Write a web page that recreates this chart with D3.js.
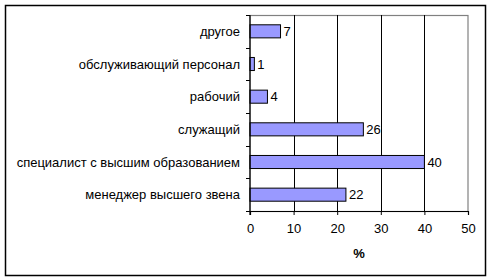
<!DOCTYPE html>
<html>
<head>
<meta charset="utf-8">
<script src="https://cdn.jsdelivr.net/npm/d3@7"></script>
<style>
  body { margin: 0; background: #fff; }
  svg text { font-family: "Liberation Sans", Arial, sans-serif; }
</style>
</head>
<body>
<svg id="chart"></svg>
<script>
// categories top to bottom, values in %
const categories = ["другое", "обслуживающий персонал", "рабочий", "служащий",
  "специалист с высшим образованием", "менеджер высшего звена"];
const values = [7, 1, 4, 26, 40, 22];
const xTicks = [0, 10, 20, 30, 40, 50];

const W = 492, H = 280;
const margin = {top: 15, right: 24, bottom: 69, left: 250};
const width = 468 - margin.left;
const height = 211 - margin.top;
const fs = 13;

const svg = d3.select("#chart").attr("width", W).attr("height", H);

// outer frame
svg.append("rect")
  .attr("x", 5.5).attr("y", 5.5)
  .attr("width", 480).attr("height", 270)
  .attr("fill", "#fff").attr("stroke", "#000").attr("stroke-width", 1.5);

const chart = svg.append("g")
  .attr("transform", `translate(${margin.left},${margin.top})`);

const x = d3.scaleLinear().domain([0, 50]).range([0, width]);
const y = d3.scaleBand().domain(categories).range([0, height]).paddingInner(0.6).paddingOuter(0.3);

// plot area border (grey)
chart.append("rect")
  .attr("x", 0).attr("y", 0.5)
  .attr("width", width).attr("height", height)
  .attr("fill", "none").attr("stroke", "#808080").attr("stroke-width", 1.2);

// gridlines
chart.selectAll(".grid")
  .data(xTicks.slice(1, -1))
  .enter()
  .append("line")
    .attr("x1", d => Math.round(x(d)) + 0.5)
    .attr("x2", d => Math.round(x(d)) + 0.5)
    .attr("y1", 0).attr("y2", height)
    .attr("stroke", "#000");

// bars
chart.selectAll(".bar")
  .data(values)
  .enter()
  .append("rect")
    .attr("x", 0)
    .attr("y", (d, i) => y(categories[i]))
    .attr("width", d => x(d))
    .attr("height", y.bandwidth())
    .attr("fill", "#9999ff")
    .attr("stroke", "#000")
    .attr("stroke-width", 1);

// value labels
chart.selectAll(".val")
  .data(values)
  .enter()
  .append("text")
    .attr("x", d => x(d) + 3)
    .attr("y", (d, i) => y(categories[i]) + y.bandwidth() / 2)
    .attr("dy", "0.35em")
    .attr("font-size", fs)
    .attr("fill", "#000")
    .text(d => d);

// x axis
const xAxis = d3.axisBottom(x).tickValues(xTicks).tickSize(4).tickPadding(9).tickFormat(d => d);
const xg = chart.append("g")
  .attr("transform", `translate(0,${height})`)
  .call(xAxis);
xg.select(".domain").attr("stroke", "#000").attr("stroke-width", 1.2);
xg.selectAll("text").attr("font-size", fs).attr("fill", "#000")
  .style("font-family", '"Liberation Sans", Arial, sans-serif');

// y axis: ticks at band boundaries
const bounds = d3.range(categories.length + 1).map(i => i * height / categories.length);
chart.append("line")
  .attr("x1", 0).attr("x2", 0).attr("y1", 0).attr("y2", height + 4)
  .attr("stroke", "#000").attr("stroke-width", 1.2);
chart.selectAll(".ytick")
  .data(bounds)
  .enter()
  .append("line")
    .attr("x1", -4).attr("x2", 0)
    .attr("y1", d => Math.round(d) + 0.5).attr("y2", d => Math.round(d) + 0.5)
    .attr("stroke", "#000");

chart.selectAll(".ylab")
  .data(categories)
  .enter()
  .append("text")
    .attr("x", -10)
    .attr("y", d => y(d) + y.bandwidth() / 2)
    .attr("dy", "0.35em")
    .attr("text-anchor", "end")
    .attr("font-size", fs)
    .attr("fill", "#000")
    .text(d => d);

// axis title
chart.append("text")
  .attr("x", x(25))
  .attr("y", height + 47)
  .attr("text-anchor", "middle")
  .attr("font-size", fs)
  .attr("font-weight", "bold")
  .text("%");
</script>
</body>
</html>
